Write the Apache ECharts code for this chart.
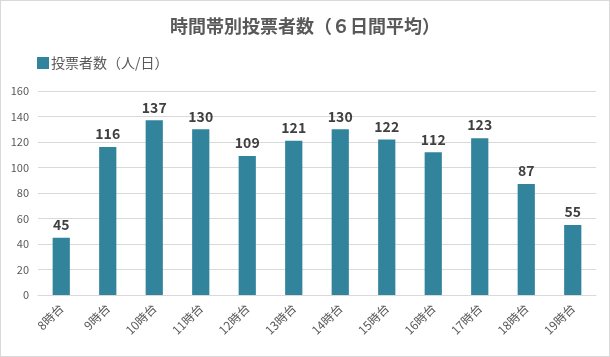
<!DOCTYPE html>
<html><head><meta charset="utf-8">
<script src="https://cdn.jsdelivr.net/npm/echarts@6/dist/echarts.min.js"></script>
<style>
html,body{margin:0;padding:0;background:#fff;}
#c{width:610px;height:357px;box-sizing:border-box;border:1px solid #d9d9d9;}
</style></head>
<body><div id="c"></div>
<script>
const title = '時間帯別投票者数（６日間平均）';
const seriesName = '投票者数（人/日）';
const categories = ['8時台','9時台','10時台','11時台','12時台','13時台','14時台','15時台','16時台','17時台','18時台','19時台'];
const values = [45,116,137,130,109,121,130,122,112,123,87,55];
const yTicks = {min:0, max:160, interval:20};

const font = '"Noto Sans CJK JP", "Noto Sans", sans-serif';
const chart = echarts.init(document.getElementById('c'));
chart.setOption({
  animation:false,
  textStyle:{fontFamily:font},
  title:{text:title, left:'center', top:11, textStyle:{fontFamily:font, fontSize:18, fontWeight:'bold', color:'#595959'}},
  legend:{left:31, top:50, itemWidth:12, itemHeight:12, itemGap:4, icon:'rect',
    textStyle:{fontFamily:font, fontSize:14, color:'#595959', padding:[0,0,0,-3]}, data:[seriesName]},
  grid:{left:37, right:13, top:90, bottom:61},
  xAxis:{type:'category', data:categories,
    axisLine:{lineStyle:{color:'#d9d9d9'}}, axisTick:{show:false},
    axisLabel:{rotate:45, fontSize:12, color:'#595959', fontFamily:font, margin:11, interval:0}},
  yAxis:{type:'value', min:yTicks.min, max:yTicks.max, interval:yTicks.interval,
    axisLine:{show:false}, axisTick:{show:false},
    splitLine:{lineStyle:{color:'#d9d9d9'}},
    axisLabel:{fontSize:11, color:'#595959', fontFamily:font, margin:9}},
  series:[{name:seriesName, type:'bar', data:values, barWidth:'37%',
    itemStyle:{color:'#31849B'},
    label:{show:true, position:'top', distance:6, fontSize:14, fontWeight:'bold', color:'#404040', fontFamily:font}}]
});
</script></body></html>
